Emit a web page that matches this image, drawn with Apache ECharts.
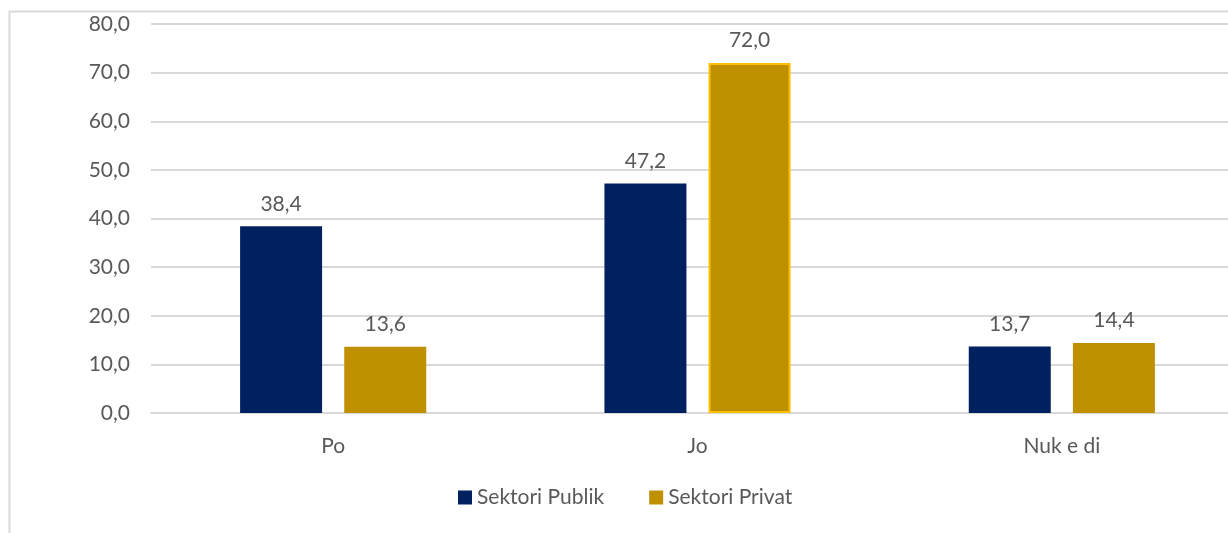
<!DOCTYPE html>
<html><head><meta charset="utf-8">
<script src="https://cdn.jsdelivr.net/npm/echarts@6/dist/echarts.min.js"></script>
<style>html,body{margin:0;padding:0;background:#fff}#c{width:1228px;height:533px}</style>
</head><body><div id="c"></div>
<script>
const categories = ['Po', 'Jo', 'Nuk e di'];
const seriesNames = ['Sektori Publik', 'Sektori Privat'];
const publik = [38.4, 47.2, 13.7];
const privat = [13.6, 72.0, 14.4];
const yTicks = [0, 10, 20, 30, 40, 50, 60, 70, 80];

const fontFam = 'Lato, "Open Sans", sans-serif';
const fs = 21;
const fmt = v => Number(v).toFixed(1).replace('.', ',');
const chart = echarts.init(document.getElementById('c'));
chart.setOption({
  animation: false,
  textStyle: { fontFamily: fontFam },
  graphic: [{
    type: 'rect', left: 7, top: 9, silent: true, z: -1,
    shape: { width: 1400, height: 700 },
    style: { fill: 'none', stroke: '#d9d9d9', lineWidth: 2 }
  }],
  grid: { left: 151, right: -16, top: 24, bottom: 120, containLabel: false, outerBoundsMode: 'none' },
  legend: {
    bottom: 20, left: 453, itemWidth: 14, itemHeight: 14, itemGap: 45,
    icon: 'rect',
    textStyle: { color: '#595959', fontSize: fs, fontFamily: fontFam },
    data: seriesNames
  },
  xAxis: {
    type: 'category', data: categories,
    axisLine: { lineStyle: { color: '#d9d9d9', width: 2 } },
    axisTick: { show: false },
    axisLabel: { color: '#595959', fontSize: fs, margin: 23, fontFamily: fontFam }
  },
  yAxis: {
    type: 'value', min: yTicks[0], max: yTicks[yTicks.length - 1], interval: 10,
    axisLine: { show: false }, axisTick: { show: false },
    splitLine: { lineStyle: { color: '#d9d9d9', width: 2 } },
    axisLabel: { color: '#595959', fontSize: fs, margin: 21, formatter: fmt, fontFamily: fontFam }
  },
  series: [
    {
      name: seriesNames[0], type: 'bar', data: publik, barWidth: 82, barGap: '27%',
      itemStyle: { color: '#002060' },
      label: { show: true, position: 'top', distance: 12, color: '#595959', fontSize: fs, formatter: p => fmt(p.value), fontFamily: fontFam }
    },
    {
      name: seriesNames[1], type: 'bar',
      data: privat.map((v, i) => i === 1 ? { value: v, itemStyle: { borderColor: '#FFC000', borderWidth: 2 } } : v),
      barWidth: 82,
      itemStyle: { color: '#BF9000' },
      label: { show: true, position: 'top', distance: 12, color: '#595959', fontSize: fs, formatter: p => fmt(p.value), fontFamily: fontFam }
    }
  ]
});
</script></body></html>
